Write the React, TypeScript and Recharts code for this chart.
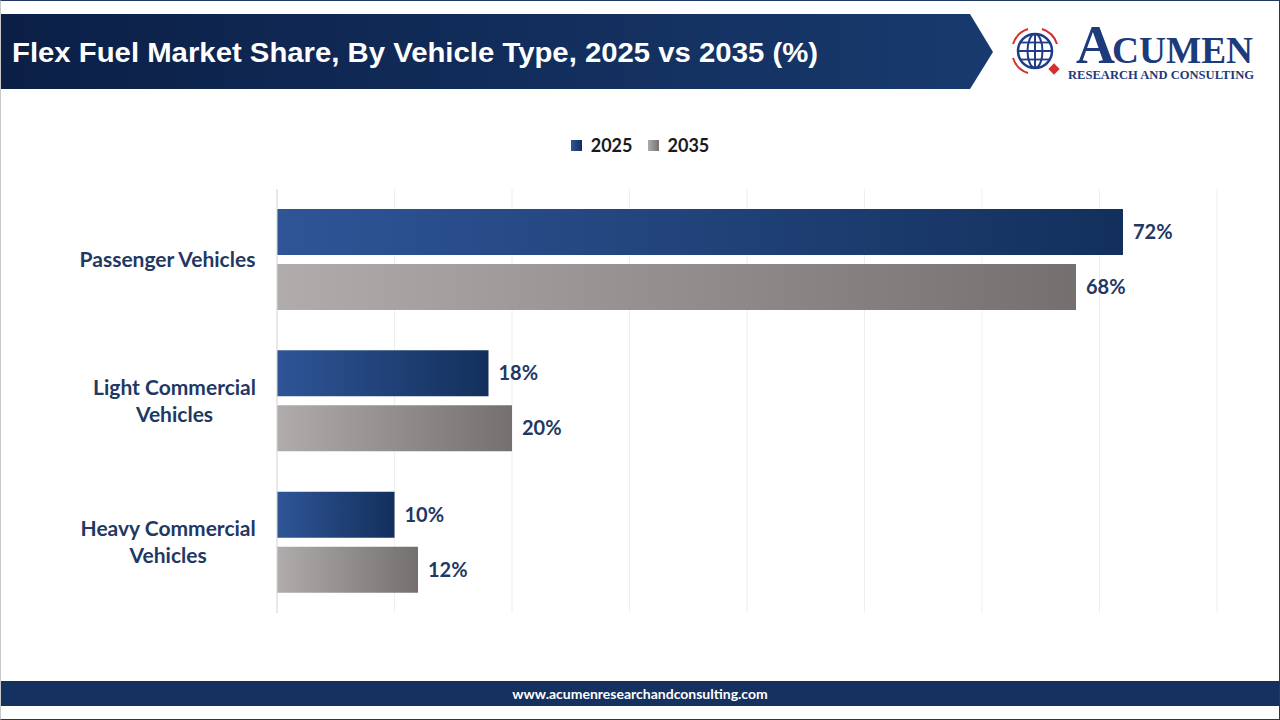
import React from 'react';
import { BarChart, Bar, XAxis, YAxis, CartesianGrid, LabelList } from 'recharts';

const categories = ['Passenger Vehicles', 'Light Commercial Vehicles', 'Heavy Commercial Vehicles'];
const share2025 = [72, 18, 10];
const share2035 = [68, 20, 12];
const xTicks = [0, 10, 20, 30, 40, 50, 60, 70, 80];

const series = [
  { key: 'y2025', name: '2025', grad: 'grad2025', from: '#2f5597', to: '#13305c' },
  { key: 'y2035', name: '2035', grad: 'grad2035', from: '#b0acab', to: '#757070' },
];

const chartData = categories.map((c, i) => ({ name: c, y2025: share2025[i], y2035: share2035[i] }));

const NAVY = '#1f3864';
const LABEL_FONT = 'Lato, "Open Sans", sans-serif';

// split long labels into two lines, like the original
function splitLabel(s: string): string[] {
  if (s.length <= 18) return [s];
  const idx = s.lastIndexOf(' ');
  return [s.slice(0, idx), s.slice(idx + 1)];
}

let measureCtx: CanvasRenderingContext2D | null = null;
function textWidth(s: string, font: string): number {
  if (!measureCtx) measureCtx = document.createElement('canvas').getContext('2d');
  if (!measureCtx) return s.length * 10;
  measureCtx.font = font;
  return measureCtx.measureText(s).width;
}

function CategoryTick(props: any) {
  const { x, y, payload } = props;
  const lines = splitLabel(payload.value);
  const font = 'bold 21px Lato';
  const maxW = Math.max(...lines.map((l) => textWidth(l, font)));
  const cx = x - maxW / 2;
  const lh = 27;
  const start = y - ((lines.length - 1) * lh) / 2;
  return (
    <g>
      {lines.map((l, i) => (
        <text key={i} x={cx} y={start + i * lh} dy={7} textAnchor="middle" fill={NAVY}
          style={{ fontFamily: LABEL_FONT, fontWeight: 700, fontSize: 21 }}>
          {l}
        </text>
      ))}
    </g>
  );
}

function Logo() {
  return (
    <svg width={300} height={100} style={{ position: 'absolute', left: 980, top: 0 }}>
      <g transform="translate(55,51)">
        {/* red arrows round the globe */}
        <path d="M -22 -7 A 23 23 0 0 1 -7 -22" fill="none" stroke="#d32f2f" strokeWidth={2} />
        <path d="M 7 -22 A 23 23 0 0 1 22 -7" fill="none" stroke="#d32f2f" strokeWidth={2} />
        <path d="M -22 7 A 23 23 0 0 0 -7 22" fill="none" stroke="#d32f2f" strokeWidth={2} />
        <circle cx={0} cy={0} r={17} fill="#fff" stroke="#1f3c88" strokeWidth={2.5} />
        <ellipse cx={0} cy={0} rx={7.5} ry={17} fill="none" stroke="#1f3c88" strokeWidth={2} />
        <line x1={0} y1={-17} x2={0} y2={17} stroke="#1f3c88" strokeWidth={2} />
        <line x1={-17} y1={0} x2={17} y2={0} stroke="#1f3c88" strokeWidth={2} />
        <line x1={-15} y1={-8.5} x2={15} y2={-8.5} stroke="#1f3c88" strokeWidth={1.8} />
        <line x1={-15} y1={8.5} x2={15} y2={8.5} stroke="#1f3c88" strokeWidth={1.8} />
        <rect x={15} y={14} width={8} height={8} fill="#d32f2f" transform="rotate(45 19 18)" />
      </g>
      <text x={96} y={63} fill="#1d3a7a" style={{ fontFamily: '"Liberation Serif", serif', fontWeight: 700, fontSize: 54 }}>A</text>
      <text x={132} y={63} fill="#1d3a7a" textLength={141} lengthAdjust="spacingAndGlyphs"
        style={{ fontFamily: '"Liberation Serif", serif', fontWeight: 700, fontSize: 37 }}>CUMEN</text>
      <text x={88} y={79} fill="#1d3a7a" textLength={186} lengthAdjust="spacingAndGlyphs"
        style={{ fontFamily: '"Liberation Serif", serif', fontWeight: 700, fontSize: 13 }}>RESEARCH AND CONSULTING</text>
    </svg>
  );
}

export default function App() {
  return (
    <div style={{ position: 'absolute', left: 0, top: 0, width: 1280, height: 720, background: '#fff', overflow: 'hidden' }}>
      <svg width={0} height={0} style={{ position: 'absolute' }}>
        <defs>
          {series.map((s) => (
            <linearGradient key={s.grad} id={s.grad} x1="0" y1="0" x2="1" y2="0">
              <stop offset="0" stopColor={s.from} />
              <stop offset="1" stopColor={s.to} />
            </linearGradient>
          ))}
        </defs>
      </svg>

      {/* title banner */}
      <svg width={1000} height={100} style={{ position: 'absolute', left: 0, top: 0 }}>
        <defs>
          <linearGradient id="banner" x1="0" y1="0" x2="1" y2="0">
            <stop offset="0" stopColor="#0b1f46" />
            <stop offset="1" stopColor="#183a6e" />
          </linearGradient>
        </defs>
        <polygon points="0,14 970,14 993,52 970,89 0,89" fill="url(#banner)" />
        <text x={12} y={62} fill="#fff" textLength={806} lengthAdjust="spacingAndGlyphs"
          style={{ fontFamily: '"Liberation Sans", Arial, sans-serif', fontWeight: 700, fontSize: 27 }}>
          Flex Fuel Market Share, By Vehicle Type, 2025 vs 2035 (%)
        </text>
      </svg>

      <Logo />

      {/* legend */}
      <div style={{ position: 'absolute', top: 134, left: 0, width: 1280, display: 'flex', justifyContent: 'center', gap: 15 }}>
        {series.map((s) => (
          <div key={s.key} style={{ display: 'flex', alignItems: 'center', gap: 9 }}>
            <span style={{ width: 11, height: 11, display: 'inline-block', background: `linear-gradient(to right, ${s.from}, ${s.to})` }} />
            <span style={{ fontFamily: LABEL_FONT, fontWeight: 700, fontSize: 18, color: '#1a1a1a' }}>{s.name}</span>
          </div>
        ))}
      </div>

      <div style={{ position: 'absolute', left: 0, top: 0 }}>
        <BarChart width={1280} height={720} data={chartData} layout="vertical"
          margin={{ top: 189, right: 63, bottom: 107, left: 0 }} barGap={9} barCategoryGap={19}>
          <CartesianGrid horizontal={false} stroke="#eeeeee" />
          <XAxis type="number" domain={[0, 80]} ticks={xTicks} hide />
          <YAxis type="category" dataKey="name" width={277} tickLine={false} tickSize={0} tickMargin={21}
            axisLine={{ stroke: '#d9d9d9' }} tick={<CategoryTick />} interval={0} />
          {series.map((s) => (
            <Bar key={s.key} dataKey={s.key} name={s.name} fill={`url(#${s.grad})`} barSize={46} isAnimationActive={false}>
              <LabelList dataKey={s.key} position="right" offset={10} formatter={(v: any) => v + '%'}
                style={{ fill: NAVY, fontFamily: LABEL_FONT, fontWeight: 700, fontSize: 20 }} />
            </Bar>
          ))}
        </BarChart>
      </div>

      {/* footer */}
      <div style={{ position: 'absolute', left: 0, top: 681, width: 1280, height: 25, background: '#15315f',
        color: '#fff', fontFamily: LABEL_FONT, fontWeight: 700, fontSize: 14, lineHeight: '25px', textAlign: 'center' }}>
        www.acumenresearchandconsulting.com
      </div>

      {/* frame */}
      <div style={{ position: 'absolute', left: 0, top: 0, width: 1278, height: 718, borderTop: '1px solid #1f3864',
        borderRight: '1px solid #1f3864', borderBottom: '1px solid #1f3864', borderLeft: '1px solid #c8c8c8', pointerEvents: 'none' }} />
    </div>
  );
}
